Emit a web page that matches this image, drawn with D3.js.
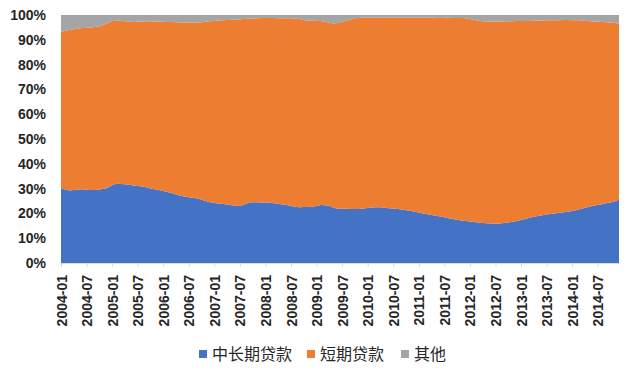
<!DOCTYPE html>
<html><head><meta charset="utf-8">
<script src="https://cdn.jsdelivr.net/npm/d3@7/dist/d3.min.js"></script>
<style>body{margin:0;background:#fff}svg{display:block}</style>
</head><body>
<svg id="c" width="638" height="370"></svg>
<script>
const seriesNames = ["中长期贷款", "短期贷款", "其他"];
const startMonth = "2004-01";
const monthCount = 132;
const tickLabels = ["2004-01","2004-07","2005-01","2005-07","2006-01","2006-07","2007-01","2007-07","2008-01","2008-07","2009-01","2009-07","2010-01","2010-07","2011-01","2011-07","2012-01","2012-07","2013-01","2013-07","2014-01","2014-07"];
const yTickLabels = ["0%","10%","20%","30%","40%","50%","60%","70%","80%","90%","100%"];

const midLong = [30.1,29.6,29.2,29.4,29.6,29.7,29.5,29.4,29.4,29.6,
29.9,30.2,31.5,32.0,31.9,31.8,31.6,31.3,31.0,30.8,
30.5,30.0,29.7,29.4,29.0,28.6,28.2,27.6,27.1,26.8,
26.5,26.3,26.0,25.5,25.0,24.5,24.2,24.0,23.8,23.6,
23.3,23.1,23.0,23.6,24.2,24.5,24.5,24.4,24.4,24.3,
24.1,23.9,23.6,23.4,23.0,22.7,22.5,22.6,22.6,22.7,
23.0,23.4,23.3,23.1,22.2,22.0,21.9,21.9,21.8,21.8,
21.8,22.0,22.2,22.4,22.5,22.5,22.3,22.1,22.0,21.8,
21.6,21.3,21.1,20.7,20.4,20.0,19.7,19.4,19.1,18.7,
18.4,18.0,17.7,17.4,17.1,16.9,16.7,16.5,16.3,16.1,
16.0,15.9,15.8,15.9,16.1,16.3,16.6,16.9,17.3,17.7,
18.2,18.6,19.0,19.3,19.6,19.8,20.0,20.3,20.5,20.7,
21.0,21.4,21.8,22.3,22.7,23.1,23.4,23.7,24.1,24.4,
24.8,25.6];

const shortTerm = [62.9,64.0,64.8,64.9,65.0,65.1,65.4,65.6,65.8,65.8,
66.1,66.6,66.1,65.7,65.8,65.7,65.7,65.9,66.3,66.6,
66.9,67.5,67.7,67.9,68.3,68.6,69.0,69.5,70.0,70.2,
70.5,70.6,70.9,71.6,72.3,73.0,73.4,73.8,74.1,74.4,
74.8,75.1,75.3,74.8,74.3,74.1,74.2,74.4,74.4,74.5,
74.7,74.8,75.1,75.3,75.7,75.9,75.9,75.4,75.1,75.0,
74.6,74.2,74.0,73.8,74.4,74.8,75.3,75.8,76.4,76.9,
77.0,76.9,76.7,76.6,76.4,76.4,76.6,76.9,77.0,77.1,
77.3,77.6,77.8,78.3,78.5,78.9,79.2,79.5,79.8,80.1,
80.5,80.9,81.1,81.4,81.7,81.8,81.7,81.5,81.4,81.4,
81.4,81.4,81.5,81.4,81.3,81.2,80.9,80.7,80.3,79.9,
79.4,79.1,78.8,78.5,78.3,78.1,77.9,77.6,77.5,77.3,
76.9,76.5,76.1,75.4,74.8,74.3,73.9,73.5,73.0,72.6,
72.0,71.0];

const other = [7.0,6.4,6.0,5.7,5.4,5.2,5.1,5.0,4.8,4.6,
4.0,3.2,2.4,2.3,2.3,2.5,2.7,2.8,2.7,2.6,
2.6,2.5,2.6,2.7,2.7,2.8,2.8,2.9,2.9,3.0,
3.0,3.1,3.1,2.9,2.7,2.5,2.4,2.2,2.1,2.0,
1.9,1.8,1.7,1.6,1.5,1.4,1.3,1.2,1.2,1.2,
1.2,1.3,1.3,1.3,1.3,1.4,1.6,2.0,2.3,2.3,
2.4,2.4,2.7,3.1,3.4,3.2,2.8,2.3,1.8,1.3,
1.2,1.1,1.1,1.0,1.1,1.1,1.1,1.0,1.0,1.1,
1.1,1.1,1.1,1.0,1.1,1.1,1.1,1.1,1.1,1.2,
1.1,1.1,1.2,1.2,1.2,1.3,1.6,2.0,2.3,2.5,
2.6,2.7,2.7,2.7,2.6,2.5,2.5,2.4,2.4,2.4,
2.4,2.3,2.2,2.2,2.1,2.1,2.1,2.1,2.0,2.0,
2.1,2.1,2.1,2.3,2.5,2.6,2.7,2.8,2.9,3.0,
3.2,3.4];

const colors = ["#4472C4", "#ED7D31", "#A5A5A5"];

// categories
const parse = d3.timeParse("%Y-%m"), fmt = d3.timeFormat("%Y-%m");
const categories = d3.timeMonth.range(parse(startMonth), d3.timeMonth.offset(parse(startMonth), monthCount)).map(fmt);

const table = categories.map((c, i) => ({cat: c, a: midLong[i], b: shortTerm[i], c2: other[i]}));
const stack = d3.stack().keys(["a","b","c2"]).offset(d3.stackOffsetExpand);
const layers = stack(table);

const svg = d3.select("#c");
const L = 61, R = 619, T = 15, B = 263;
const x = d3.scalePoint().domain(categories).range([L, R]);
const y = d3.scaleLinear().domain([0, 1]).range([B, T]);

const area = d3.area().x((d, i) => x(categories[i])).y0(d => y(d[0])).y1(d => y(d[1]));
svg.append("g").selectAll("path").data(layers).join("path")
  .attr("d", area).attr("fill", (d, i) => colors[i]);

// x axis
const xAxis = d3.axisBottom(x).tickValues(tickLabels).tickSize(4).tickSizeOuter(0).tickFormat(d => d);
const gx = svg.append("g").attr("transform", `translate(0,${B})`).call(xAxis);
gx.select(".domain").attr("stroke", "#d9d9d9");
gx.selectAll(".tick line").attr("stroke", "#d9d9d9");
gx.selectAll(".tick text")
  .attr("transform", "rotate(-90)")
  .attr("text-anchor", "end")
  .attr("x", -12).attr("y", 0).attr("dy", "0.36em")
  .attr("font-family", "Liberation Sans, Arial, sans-serif")
  .attr("font-weight", "bold")
  .attr("font-size", 14).attr("fill", "#262626");

// y axis
const yAxis = d3.axisLeft(y).tickValues(d3.range(0, 11).map(i => i / 10)).tickSize(0)
  .tickFormat((d, i) => yTickLabels[i]);
const gy = svg.append("g").attr("transform", `translate(${L},0)`).call(yAxis);
gy.select(".domain").remove();
gy.selectAll(".tick text").attr("x", -15)
  .attr("font-family", "Liberation Sans, Arial, sans-serif")
  .attr("font-weight", "bold")
  .attr("font-size", 14).attr("fill", "#262626");

// legend
const legendX = [199, 307, 401];
const lg = svg.append("g");
seriesNames.forEach((n, i) => {
  lg.append("rect").attr("x", legendX[i]).attr("y", 350).attr("width", 8).attr("height", 8).attr("fill", colors[i]);
  lg.append("text").attr("x", legendX[i] + 13).attr("y", 354).attr("dy", "0.36em")
    .attr("font-family", "Noto Sans CJK SC, sans-serif").attr("font-size", 16).attr("fill", "#262626").text(n);
});
</script>
</body></html>
